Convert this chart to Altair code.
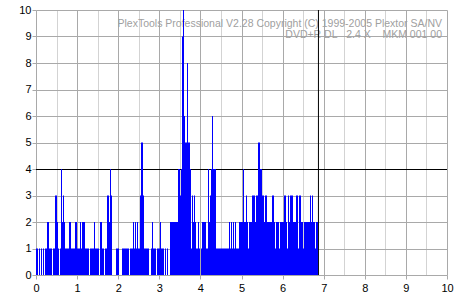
import altair as alt
import pandas as pd

# PI-error counts, one sample per ~0.0243 x-units
counts_0 = [1,1,0,1,0,1,0,1,0,1,1, 2,2, 1,1,1,0,1,1, 3,3, 2,1,0,1, 4, 2,3,2,1,
            1,1,1, 2,2, 1,1,1,1, 2,2]
counts_1 = [1,1,1, 2, 1, 2,2,2, 1,1,1,1,0,1,1,1,1, 2, 1,1,1,1,0, 2,2, 1,1,0,1,1,
            3,3, 2,4,3, 0,0,0,0, 1,1,1, 0,0,0]
counts_2 = [1,1,1,1,1,1,1, 0, 1,1,1, 2,1,2,1,2,1,1, 3,5,5,3, 1,1,1,1,1, 0,0, 1, 2,
            1,1,1, 0, 1,1,1, 2, 1,1,1, 0, 1, 0, 1, 0,0]
counts_3 = [2,2,2,2,2,2,2,2, 4,4,3,4,9,10, 6,5,5,8,5,5,4,1, 3,2,3,2, 1,1, 2,
            1,0,1, 2,2,2,2, 1,1,4,2,3,4,6,4,4,4]
counts_4 = [1,1,1,1,1,1,1,1,1,1,1,1,1, 2,1,2,1,2,1,2,1,1,1, 2,2,2,2, 4,
            2,2,3,2,1, 2,2,2, 3,3,3, 2, 3,3, 5,5, 4,4, 3,3, 2, 3,3]
counts_5 = [2,2,2,2,2, 3,3, 2,1, 2,2,2,1,2,2,2,2, 3,3, 2,1, 3, 2,3,3,3, 2,2,2,
            3,3, 1, 3,3, 2,2,1, 2,2,2,2,2,2, 3,2,3,2, 2,1,2,2]

values = counts_0 + counts_1 + counts_2 + counts_3 + counts_4 + counts_5
step = 10 / 411  # sample spacing in x-units
x_pos = [i * step for i in range(len(values))] + [len(values) * step]
y_val = values + [0]
df = pd.DataFrame({"x": x_pos, "v": y_val})

limit_y = [4]
limit_x = [6.86]
title_lines = ["PlexTools Professional V2.28 Copyright (C) 1999-2005 Plextor SA/NV",
               "DVD+R DL\u00a0\u00a0 2.4 X\u00a0\u00a0\u00a0 MKM 001 00"]

FONT = "Liberation Sans"
DARK = "#a9a9a9"
LIGHT = "#d3d3d3"

xgrid_vals = [i * 0.5 for i in range(21)]
yvals = list(range(11))

xscale = alt.Scale(domain=[0, 10], nice=False, zero=False)
yscale = alt.Scale(domain=[0, 10], nice=False, zero=False)

xaxis = alt.Axis(values=xgrid_vals, title=None, grid=True, domain=False,
                 gridColor={"condition": {"test": "datum.value % 1 !== 0", "value": LIGHT}, "value": DARK},
                 tickColor={"condition": {"test": "datum.value % 1 !== 0", "value": "transparent"}, "value": DARK},
                 labelExpr="datum.value % 1 ? '' : toString(datum.value)",
                 tickSize=4, labelPadding=3, labelFont=FONT, labelFontSize=11,
                 labelColor="black", labelFlush=False, labelOverlap=False)
yaxis = alt.Axis(values=yvals, title=None, grid=True, domain=False, gridColor=DARK,
                 tickColor=DARK, tickSize=4, labelPadding=1, labelFont=FONT,
                 labelFontSize=11, labelColor="black", labelFlush=False, labelOverlap=False)

area = alt.Chart(df).mark_area(interpolate="step-after", color="#0000ff", opacity=1).encode(
    x=alt.X("x:Q", scale=xscale, axis=xaxis),
    y=alt.Y("v:Q", scale=yscale, axis=yaxis),
)

hline = alt.Chart(pd.DataFrame({"y": limit_y})).mark_rule(color="black", strokeWidth=1, yOffset=0.5).encode(
    y=alt.Y("y:Q", scale=yscale, axis=yaxis)
)
vline = alt.Chart(pd.DataFrame({"x": limit_x})).mark_rule(color="black", strokeWidth=1, xOffset=0.5).encode(
    x=alt.X("x:Q", scale=xscale, axis=xaxis)
)

anchor = pd.DataFrame({"x": [10], "y": [10]})
t1 = alt.Chart(anchor).mark_text(text=title_lines[0], align="right", baseline="alphabetic",
                                 dx=-5, dy=16.5, font=FONT, fontSize=10.5, color="#a0a0a0").encode(
    x=alt.X("x:Q", scale=xscale, axis=xaxis), y=alt.Y("y:Q", scale=yscale, axis=yaxis))
t2 = alt.Chart(anchor).mark_text(text=title_lines[1], align="right", baseline="alphabetic",
                                 dx=-5, dy=27.5, font=FONT, fontSize=10.5, color="#a0a0a0").encode(
    x=alt.X("x:Q", scale=xscale, axis=xaxis), y=alt.Y("y:Q", scale=yscale, axis=yaxis))

chart = alt.layer(t1, t2, hline, vline, area).properties(
    width=411, height=265,
    autosize=alt.AutoSizeParams(type="none"),
    padding={"left": 36, "top": 10, "right": 20, "bottom": 25},
    background="white",
).configure_view(stroke=None)

chart.save("out.html", embed_options={"renderer": "svg", "actions": False})
